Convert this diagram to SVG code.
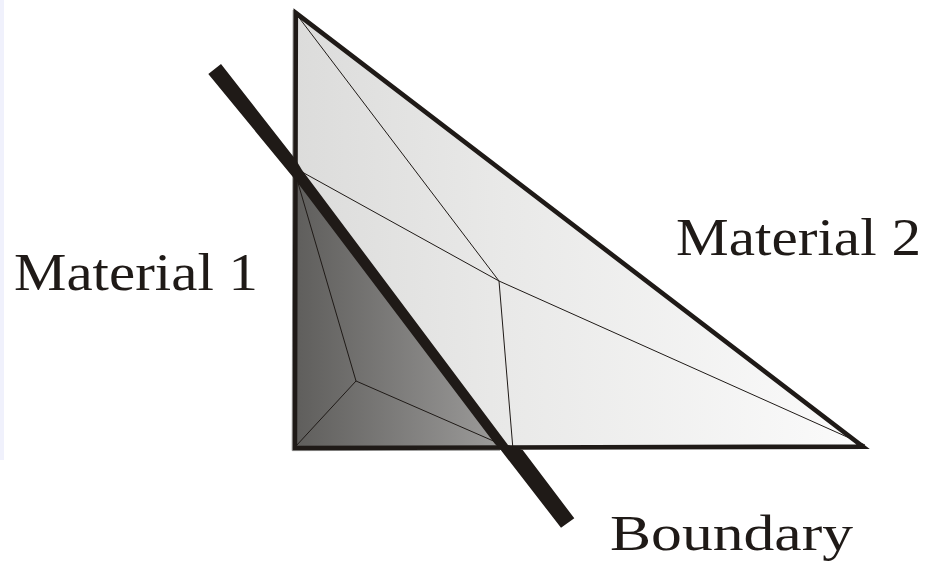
<svg xmlns="http://www.w3.org/2000/svg" width="926" height="561" viewBox="0 0 926 561">
<style>
.thin{fill:none;stroke:#1f1a17;stroke-width:1}
.label{font-family:"Liberation Serif","DejaVu Serif",serif;font-size:52px;fill:#1f1a17}
</style>
<defs>
<linearGradient id="light" gradientUnits="userSpaceOnUse" x1="296" y1="0" x2="866" y2="0"><stop offset="0" stop-color="#dcdcdb"/><stop offset="0.37" stop-color="#e9e9e8"/><stop offset="1" stop-color="#fbfbfb"/></linearGradient>
<linearGradient id="dark" gradientUnits="userSpaceOnUse" x1="296" y1="0" x2="500" y2="0"><stop offset="0" stop-color="#5f5e5c"/><stop offset="1" stop-color="#9c9b9a"/></linearGradient>
</defs>
<rect width="926" height="561" fill="#fff"/>
<rect x="0" y="0" width="4" height="460" fill="#f0f1fc"/>
<g id="material-2-region"><polygon points="296,13 863,447 295,448" fill="url(#light)"/></g>
<g id="material-1-region"><polygon points="296,172 502,450 295,448" fill="url(#dark)"/></g>
<g id="connectors">
<path d="M293.2,10L292.2,450.6L500,450.2" fill="none" stroke="#8f8f8e" stroke-width="1"/>
<path class="thin" d="M297,15L499,281L865,445M301,171.4L499,281L512.7,446M298,183L356,381L296,446M356,381L495,441.7"/>
<polygon points="295.8,12.9 863,446.6 294.9,448" fill="none" stroke="#1f1a17" stroke-width="4.6" stroke-linejoin="miter" stroke-miterlimit="10"/>
<polygon points="208.3,74 221,64 296,160 302,170 508,445 522.7,450 574.3,518.3 561,527.7 500,449 495,444 297,182" fill="#1f1a17"/>
</g>
<g id="material-1"><text class="label" x="14" y="290" textLength="244" lengthAdjust="spacingAndGlyphs">Material 1</text></g>
<g id="material-2"><text class="label" x="676" y="255" textLength="245" lengthAdjust="spacingAndGlyphs">Material 2</text></g>
<g id="boundary"><text class="label" style="font-size:50px" x="610" y="550" textLength="243" lengthAdjust="spacingAndGlyphs">Boundary</text></g>
</svg>
